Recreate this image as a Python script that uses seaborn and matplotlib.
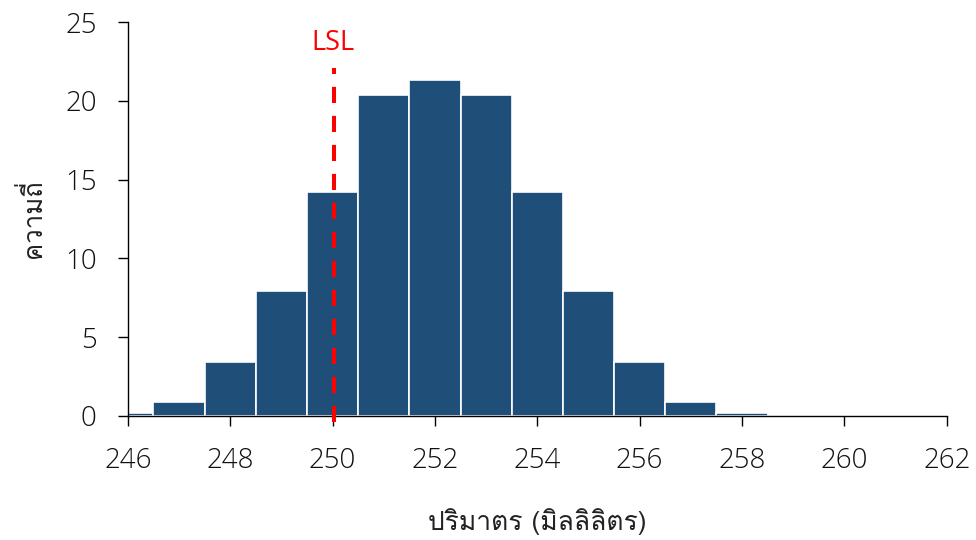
import numpy as np
import pandas as pd
import seaborn as sns
import matplotlib
matplotlib.use('Agg')
import matplotlib.pyplot as plt

# bin centres (ml) and frequency (%)
volume = [246, 247, 248, 249, 250, 251, 252, 253, 254, 255, 256, 257, 258, 259, 260, 261]
freq = [0.2, 0.9, 3.4, 7.9, 14.2, 20.4, 21.3, 20.4, 14.2, 7.9, 3.4, 0.9, 0.2, 0.03, 0.0, 0.0]
lsl = 250
x_ticks = [246, 248, 250, 252, 254, 256, 258, 260, 262]
y_ticks = [0, 5, 10, 15, 20, 25]

sns.set_theme(style='ticks')
plt.rcParams['font.family'] = ['Loma', 'DejaVu Sans']

df = pd.DataFrame({'volume': volume, 'freq': freq})

fig = plt.figure(figsize=(9.76, 5.4), dpi=100)
ax = fig.add_axes([0.131, 0.230, 0.839, 0.729])

sns.histplot(data=df, x='volume', weights='freq', binwidth=1, binrange=(245.5, 261.5),
             color='#1F4E79', alpha=1, edgecolor='white', linewidth=1.2, ax=ax)

ax.vlines(lsl + 0.03, -0.4, 22.1, colors='#FF0000', linestyles=(0, (4, 3.2)), linewidth=2.9,
          clip_on=False, zorder=5)
ax.text(lsl, 23.7, 'LSL', color='#FF0000', fontsize=19.5,
        ha='center', va='center', family=['Open Sans', 'DejaVu Sans'])

ax.set_xlim(246, 262)
ax.set_ylim(0, 25)
ax.set_xticks(x_ticks)
ax.set_yticks(y_ticks)
ax.tick_params(axis='both', direction='out', length=7.5, width=1, color='black',
               labelsize=20, pad=15, labelcolor='#111111', bottom=True, left=True)
for lab in ax.get_xticklabels() + ax.get_yticklabels():
    lab.set_family(['Open Sans', 'DejaVu Sans'])
    lab.set_fontweight('light')

sns.despine(ax=ax)
ax.spines['left'].set_color('black')
ax.spines['bottom'].set_color('black')
ax.spines['left'].set_linewidth(1)
ax.spines['bottom'].set_linewidth(1)

ax.set_xlabel('ปริมาตร (มิลลิลิตร)', fontsize=19, color='#222222', labelpad=24)
ax.set_ylabel('ความถี่', fontsize=18.5, color='#222222', labelpad=14)

fig.savefig('out.png', dpi=100)
